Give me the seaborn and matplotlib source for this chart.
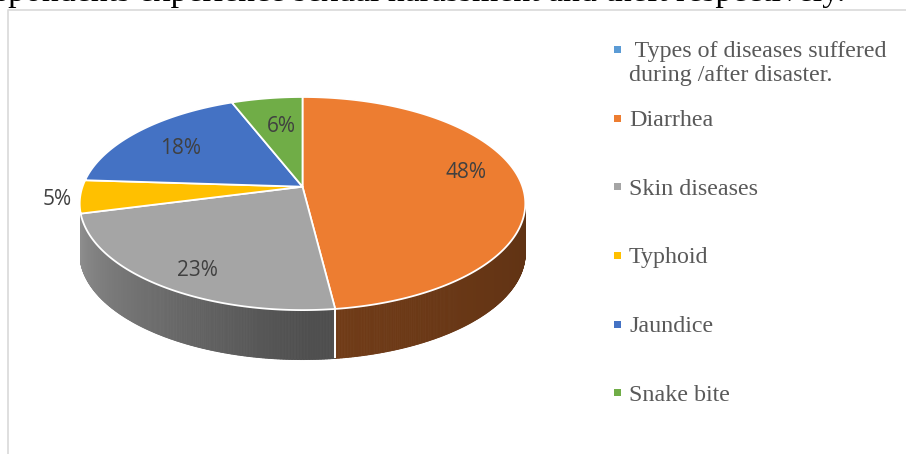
import numpy as np
import matplotlib
matplotlib.use("Agg")
import matplotlib.pyplot as plt
import matplotlib.colors as mcolors
from matplotlib.patches import Polygon, Rectangle
from matplotlib.collections import PolyCollection
import seaborn as sns

# ---- data -------------------------------------------------------------
header_label = " Types of diseases suffered\nduring /after disaster."
header_color = "#5B9BD5"
categories = ["Diarrhea", "Skin diseases", "Typhoid", "Jaundice", "Snake bite"]
shares = [48, 23, 5, 18, 6]
pct_labels = ["48%", "23%", "5%", "18%", "6%"]
slice_colors = ["#ED7D31", "#A5A5A5", "#FFC000", "#4472C4", "#70AD47"]
caption = "spondents experience sexual harassment and theft respectively."

# ---- style ------------------------------------------------------------
sns.set_theme(style="white")
plt.rcParams["font.family"] = ["Liberation Serif", "DejaVu Serif"]

W, H, DPI = 906, 454, 100
fig = plt.figure(figsize=(W / DPI, H / DPI), dpi=DPI)
ax = fig.add_axes([0, 0, 1, 1])
ax.set_xlim(0, W)
ax.set_ylim(H, 0)
ax.axis("off")

# ---- 3-D pie geometry (tilted disc seen in perspective) ---------------
cx, cy = 302.5, 186.7      # projected disc centre
A, B = 220.0, 103.9        # horizontal / depth scale
k = 0.158                  # perspective strength
depth = 49.5               # thickness of the disc

def project(theta_deg, r=1.0):
    """theta measured clockwise from 12 o'clock; returns screen x, y."""
    t = np.radians(theta_deg)
    u = r * np.sin(t)
    v = -r * np.cos(t)
    s = 1.0 / (1.0 - k * v)
    return cx + A * u * s, cy + B * v * s

vals = np.array(shares, dtype=float)
bounds = np.concatenate([[0.0], np.cumsum(vals) / vals.sum() * 360.0])

# visible front rim lies between the two silhouette points
rim_right = np.degrees(np.arccos(-k))
rim_left = 360.0 - rim_right

def side_shade(theta):
    return np.interp(theta, [90.0, 180.0, 270.0], [0.39, 0.48, 0.93])

# sides (faces that are only a sliver at the silhouette are not shown)
for i, col in enumerate(slice_colors):
    a0, a1 = max(bounds[i], rim_right), min(bounds[i + 1], rim_left)
    if a1 - a0 < 8:
        continue
    base = np.array(mcolors.to_rgb(col))
    n = max(int((a1 - a0) * 3), 2)
    th = np.linspace(a0, a1, n + 1)
    polys, cols = [], []
    for j in range(n):
        x0, y0 = project(th[j])
        x1, y1 = project(th[j + 1])
        polys.append([(x0, y0), (x1, y1), (x1, y1 + depth), (x0, y0 + depth)])
        cols.append(np.clip(base * side_shade(0.5 * (th[j] + th[j + 1])), 0, 1))
    ax.add_collection(PolyCollection(polys, facecolors=cols, edgecolors=cols,
                                     linewidths=0.6, zorder=2))
    # white seam between neighbouring side faces (skip near the silhouette)
    for edge in (bounds[i], bounds[i + 1]):
        if rim_right + 12 < edge < rim_left - 12:
            ex, ey = project(edge)
            ax.plot([ex, ex], [ey, ey + depth], color="white", lw=1.3,
                    solid_capstyle="butt", zorder=3)

# top face wedges
for i, col in enumerate(slice_colors):
    th = np.linspace(bounds[i], bounds[i + 1], max(int((bounds[i + 1] - bounds[i]) * 2), 4))
    xs, ys = project(th)
    pts = [(cx, cy)] + list(zip(xs, ys))
    ax.add_patch(Polygon(pts, closed=True, facecolor=col, edgecolor="white",
                         linewidth=1.3, joinstyle="round", zorder=4))

# percentage labels: placed on the disc, small slices pushed outside
label_nudge = [(7, -10), (-7, 16), (0, 2), (-2, 3), (6, 6)]
for i, lab in enumerate(pct_labels):
    mid = 0.5 * (bounds[i] + bounds[i + 1])
    outside = vals[i] / vals.sum() < 0.055
    lx, ly = project(mid, 1.1 if outside else 0.72)
    dx, dy = label_nudge[i]
    ax.text(lx + dx, ly + dy, lab, ha="center", va="center", fontsize=15,
            family=["Open Sans", "DejaVu Sans"], color="#404040", zorder=6)

# ---- legend -----------------------------------------------------------
leg_labels = [header_label] + categories
leg_colors = [header_color] + slice_colors
leg_x, leg_y0, leg_dy, line_px = 614, 49.3, 68.7, 24.0
for i, (lab, col) in enumerate(zip(leg_labels, leg_colors)):
    my = leg_y0 + i * leg_dy
    ax.add_patch(Rectangle((leg_x, my - 3.5), 7, 7, facecolor=col,
                           edgecolor="none", zorder=5))
    for j, line in enumerate(lab.split("\n")):
        ax.text(leg_x + 15, my + 8 + j * line_px, line, ha="left",
                va="baseline", fontsize=17.3, color="#595959", zorder=5)

# ---- chart frame and the running text above it --------------------------
ax.plot([7.5, 7.5, W + 2], [H + 2, 9.5, 9.5], color="#D9D9D9", lw=1.2, zorder=1)
ax.text(845, 0.5, caption, ha="right", va="baseline", fontsize=24.3,
        color="black", zorder=7)

fig.savefig("out.png", dpi=DPI)
